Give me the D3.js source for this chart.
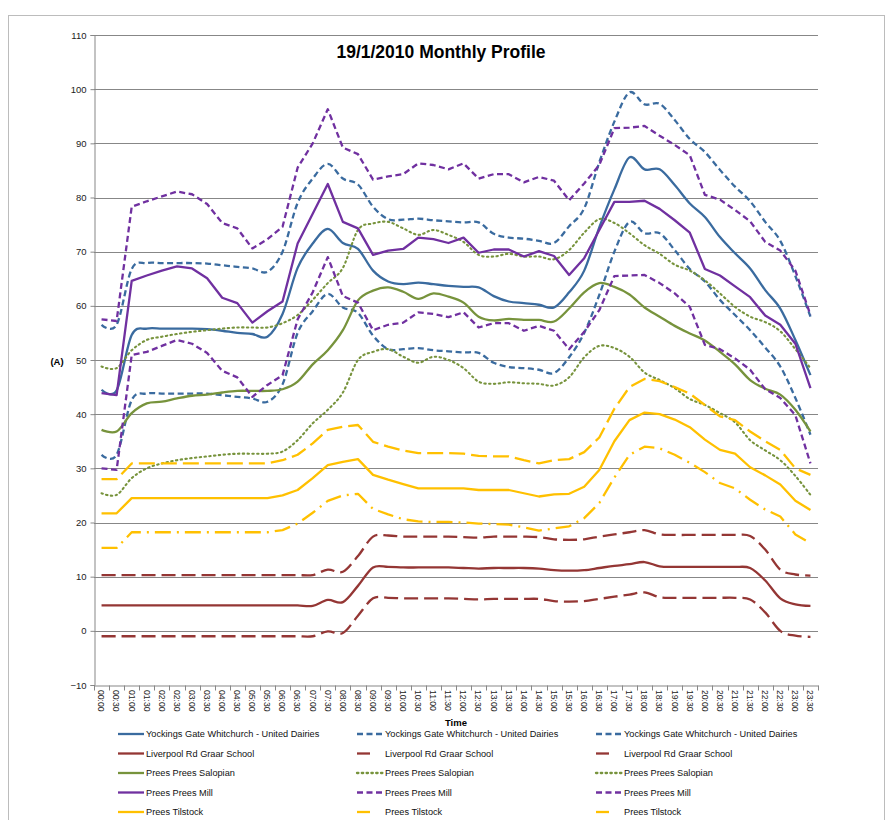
<!DOCTYPE html>
<html><head><meta charset="utf-8">
<script src="https://cdn.jsdelivr.net/npm/d3@7"></script>
<style>
html,body{margin:0;padding:0;background:#fff;}
svg{display:block;font-family:"Liberation Sans",Arial,sans-serif;}
</style></head>
<body>
<svg id="chart" width="891" height="820"></svg>
<script>
const times = ["00:00","00:30","01:00","01:30","02:00","02:30","03:00","03:30","04:00","04:30","05:00","05:30",
"06:00","06:30","07:00","07:30","08:00","08:30","09:00","09:30","10:00","10:30","11:00","11:30",
"12:00","12:30","13:00","13:30","14:00","14:30","15:00","15:30","16:00","16:30","17:00","17:30",
"18:00","18:30","19:00","19:30","20:00","20:30","21:00","21:30","22:00","22:30","23:00","23:30"];
const yTicks = [-10,0,10,20,30,40,50,60,70,80,90,100,110];

const ygMean = [44.5,44.4,54.6,55.8,55.8,55.8,55.8,55.7,55.4,55.0,54.8,54.3,58.5,67.0,71.5,74.2,71.6,70.5,66.5,64.5,64.0,64.3,64.0,63.7,63.5,63.4,61.8,60.8,60.5,60.2,59.7,62.5,66.5,74.5,81.5,87.4,85.2,85.2,82.3,78.9,76.4,72.7,69.7,66.9,62.9,59.5,53.7,47.2];
const ygUp = [56.5,56.5,66.8,67.9,67.9,67.9,67.9,67.8,67.5,67.2,66.9,66.3,70.0,79.0,83.5,86.2,83.5,82.4,78.3,76.0,75.9,76.1,75.8,75.6,75.4,75.4,73.3,72.6,72.4,72.0,71.6,74.7,78.0,86.5,94.0,99.4,97.2,97.3,94.3,90.8,88.4,85.1,82.0,79.3,75.5,72.0,65.5,58.0];
const ygLow = [32.5,32.5,42.6,43.8,43.8,43.8,43.8,43.8,43.5,43.2,42.9,42.3,45.5,55.0,59.0,62.2,59.7,58.7,54.5,52.0,52.0,52.2,51.8,51.6,51.4,51.3,49.5,48.7,48.5,48.2,47.6,50.5,55.0,62.0,70.0,75.5,73.4,73.4,70.3,66.8,64.5,61.1,58.3,55.5,52.3,48.8,43.0,36.2];

const livMean = [4.7,4.7,4.7,4.7,4.7,4.7,4.7,4.7,4.7,4.7,4.7,4.7,4.7,4.7,4.6,5.7,5.3,8.3,11.7,11.8,11.7,11.7,11.7,11.7,11.6,11.5,11.6,11.6,11.6,11.5,11.2,11.1,11.2,11.6,12.0,12.3,12.7,11.9,11.8,11.8,11.8,11.8,11.8,11.6,9.3,6.0,4.9,4.6];
const livUp = [10.3,10.3,10.3,10.3,10.3,10.3,10.3,10.3,10.3,10.3,10.3,10.3,10.3,10.3,10.3,11.3,10.9,13.8,17.4,17.6,17.4,17.4,17.4,17.4,17.3,17.2,17.4,17.4,17.4,17.3,16.9,16.8,16.9,17.4,17.8,18.2,18.6,17.8,17.7,17.7,17.7,17.7,17.7,17.5,15.0,11.3,10.4,10.2];
const livLow = [-1.0,-1.0,-1.0,-1.0,-1.0,-1.0,-1.0,-1.0,-1.0,-1.0,-1.0,-1.0,-1.0,-1.0,-1.0,-0.1,-0.4,2.8,6.0,6.1,6.0,6.0,6.0,6.0,5.9,5.8,5.9,5.9,5.9,5.9,5.5,5.4,5.5,5.9,6.3,6.7,7.1,6.2,6.1,6.1,6.1,6.1,6.1,5.8,3.4,0.0,-0.9,-1.1];

const ppsMean = [37.1,36.8,40.2,42.0,42.3,42.9,43.4,43.6,44.0,44.3,44.3,44.3,44.6,46.0,49.2,51.8,55.5,61.0,62.8,63.4,62.6,61.3,62.3,61.7,60.6,58.0,57.3,57.6,57.4,57.4,57.1,59.5,62.5,64.2,63.5,62.1,59.7,58.0,56.3,54.9,53.6,51.5,49.2,46.3,44.7,43.6,40.8,36.8];
const ppsUp = [48.8,48.5,51.8,53.7,54.3,54.8,55.2,55.5,55.8,56.0,56.0,56.0,56.8,58.3,61.1,64.2,67.0,74.0,75.2,75.5,74.3,73.1,74.0,73.1,71.8,69.4,69.1,69.6,69.1,69.1,68.6,70.3,73.5,76.0,75.3,73.4,71.2,69.6,67.6,66.5,64.7,62.3,59.8,58.0,57.0,55.3,52.0,48.5];
const ppsLow = [25.4,25.1,28.2,30.0,30.9,31.5,31.9,32.2,32.5,32.7,32.7,32.7,33.1,35.2,38.3,40.8,44.0,50.0,51.5,52.0,50.6,49.5,50.6,50.0,48.5,46.0,45.6,45.9,45.7,45.6,45.3,46.8,50.5,52.6,52.2,50.6,47.7,46.3,44.8,42.8,41.7,40.2,38.5,35.2,33.3,31.5,28.6,25.1];

const ppmMean = [43.9,43.5,64.6,65.6,66.5,67.3,66.9,65.1,61.5,60.5,56.9,59.0,60.8,71.5,77.0,82.5,75.5,74.3,69.4,70.2,70.5,72.6,72.3,71.6,72.6,69.8,70.4,70.4,69.1,70.1,69.2,65.7,68.8,74.0,79.2,79.2,79.4,77.9,75.8,73.5,66.8,65.6,63.6,61.6,58.2,56.5,53.0,44.8];
const ppmUp = [57.5,57.2,78.3,79.3,80.2,81.1,80.6,78.8,75.3,74.3,70.6,72.3,74.6,85.5,90.0,96.3,89.2,88.0,83.3,83.9,84.3,86.3,86.0,85.2,86.3,83.5,84.3,84.3,82.8,83.8,83.1,79.5,82.6,86.0,92.8,92.9,93.2,91.4,89.7,87.8,80.5,79.6,77.7,75.6,71.8,70.2,66.5,58.3];
const ppmLow = [30.0,29.7,50.9,51.5,52.6,53.7,53.0,51.3,48.0,46.8,43.2,45.4,47.2,57.5,62.5,69.0,61.8,60.6,55.5,56.5,56.9,58.8,58.5,57.9,58.8,56.0,56.8,56.8,55.4,56.3,55.4,52.0,55.2,59.2,65.5,65.6,65.7,64.2,62.3,59.8,52.8,52.0,50.3,48.2,44.6,43.0,39.8,30.9];

const tilMean = [21.7,21.7,24.5,24.5,24.5,24.5,24.5,24.5,24.5,24.5,24.5,24.5,25.0,26.0,28.2,30.6,31.2,31.7,28.8,27.9,27.1,26.3,26.3,26.3,26.3,26.0,26.0,26.0,25.4,24.8,25.2,25.3,26.6,29.7,35.0,38.9,40.3,40.0,39.0,37.6,35.3,33.4,32.7,30.2,28.7,27.0,24.0,22.3];
const tilUp = [28.0,28.0,30.9,30.9,30.9,30.9,30.9,30.9,30.9,30.9,30.9,30.9,31.5,32.5,34.6,37.1,37.7,38.0,34.9,34.0,33.3,32.8,32.8,32.8,32.7,32.3,32.2,32.2,31.5,30.9,31.5,31.7,33.0,35.7,41.0,45.0,46.5,46.1,45.0,43.8,41.7,39.6,38.9,36.8,35.0,33.4,30.0,28.8];
const tilLow = [15.3,15.3,18.2,18.2,18.2,18.2,18.2,18.2,18.2,18.2,18.2,18.2,18.6,19.8,21.8,24.0,25.0,25.3,22.5,21.5,20.6,20.2,20.1,20.1,20.0,19.8,19.7,19.6,19.1,18.5,18.9,19.3,20.8,23.6,28.3,32.5,34.0,33.7,32.5,31.0,29.3,27.3,26.3,24.2,22.4,21.1,17.8,16.2];

const names = ["Yockings Gate  Whitchurch - United Dairies","Liverpool Rd Graar  School","Prees Prees Salopian","Prees Prees Mill","Prees Tilstock"];

const C = {blue:"#3a6b9f", brown:"#943634", green:"#77933c", purple:"#7030a0", yellow:"#ffc000"};
const series = [
  {name:names[0], v:ygMean, color:C.blue, dash:null, smooth:true},
  {name:names[0], v:ygUp, color:C.blue, dash:"6,3.5", smooth:true},
  {name:names[0], v:ygLow, color:C.blue, dash:"6,3.5", smooth:true},
  {name:names[1], v:livMean, color:C.brown, dash:null, smooth:true},
  {name:names[1], v:livUp, color:C.brown, dash:"14,6", smooth:true, longDash:true},
  {name:names[1], v:livLow, color:C.brown, dash:"14,6", smooth:true, longDash:true},
  {name:names[2], v:ppsMean, color:C.green, dash:null, smooth:true},
  {name:names[2], v:ppsUp, color:C.green, dash:"1.4,3.4", smooth:true, dot:true},
  {name:names[2], v:ppsLow, color:C.green, dash:"1.4,3.4", smooth:true, dot:true},
  {name:names[3], v:ppmMean, color:C.purple, dash:null, smooth:false},
  {name:names[3], v:ppmUp, color:C.purple, dash:"6,3.5", smooth:false},
  {name:names[3], v:ppmLow, color:C.purple, dash:"6,3.5", smooth:false},
  {name:names[4], v:tilMean, color:C.yellow, dash:null, smooth:false},
  {name:names[4], v:tilUp, color:C.yellow, dash:"16,6", smooth:false, longDash:true},
  {name:names[4], v:tilLow, color:C.yellow, dash:"16,6,2,6", smooth:false, longDash:true}
];

const svg = d3.select("#chart");
const m = {left:94, right:818, top:35, bottom:685};

svg.append("rect").attr("x",8.5).attr("y",15.5).attr("width",876).attr("height",830)
  .attr("fill","none").attr("stroke","#bcbcbc").attr("stroke-width",1);

const x = d3.scaleBand().domain(times).range([m.left, m.right]).paddingInner(0).paddingOuter(0);
const y = d3.scaleLinear().domain([-10,110]).range([m.bottom, m.top]);

svg.append("g").selectAll("line").data(yTicks.filter(d=>d>-10)).join("line")
  .attr("x1",m.left).attr("x2",m.right)
  .attr("y1",d=>Math.round(y(d))+0.5).attr("y2",d=>Math.round(y(d))+0.5)
  .attr("stroke","#878787").attr("stroke-width",1);

const yAxis = d3.axisLeft(y).tickValues(yTicks).tickSize(4).tickPadding(4).tickFormat(d3.format("d"));
const gy = svg.append("g").attr("transform",`translate(${m.left+0.5},0)`).call(yAxis);
gy.select(".domain").attr("stroke","#878787");
gy.selectAll(".tick line").attr("stroke","#878787");
gy.selectAll(".tick text").attr("font-size",9.5).attr("fill","#222")
  .attr("font-family",'"Liberation Sans","Arial",sans-serif');

const xAxis = d3.axisBottom(x).tickSize(0).tickPadding(0);
const gx = svg.append("g").attr("transform",`translate(0,${m.bottom+0.5})`).call(xAxis);
gx.select(".domain").attr("stroke","#878787");
const bounds = times.map(t=>x(t)).concat([m.right]);
gx.append("g").selectAll("line").data(bounds).join("line")
  .attr("x1",d=>Math.round(d)+0.5).attr("x2",d=>Math.round(d)+0.5).attr("y1",0).attr("y2",5)
  .attr("stroke","#878787");
gx.selectAll(".tick text")
  .attr("font-size",8.6).attr("fill","#222")
  .attr("font-family",'"Liberation Sans","Arial",sans-serif')
  .attr("text-anchor","start").attr("dy",null)
  .attr("transform","translate(-3.2,4.5) rotate(90)")
  .attr("y",0).attr("x",0);

svg.append("text").attr("x",441).attr("y",58).attr("text-anchor","middle")
  .attr("font-size",17.5).attr("font-weight","bold").attr("fill","#000")
  .text("19/1/2010 Monthly Profile");

svg.append("text").attr("x",57).attr("y",365).attr("text-anchor","middle")
  .attr("font-size",9.5).attr("font-weight","bold").text("(A)");
svg.append("text").attr("x",456).attr("y",726).attr("text-anchor","middle")
  .attr("font-size",9.5).attr("font-weight","bold").text("Time");

const cx = d => x(d) + x.bandwidth()/2;
const plot = svg.append("g");
series.forEach(s=>{
  const line = d3.line()
    .x((d,i)=>cx(times[i]))
    .y(d=>y(d))
    .curve(s.smooth ? d3.curveCardinal.tension(0) : d3.curveLinear);
  plot.append("path").datum(s.v)
    .attr("d",line)
    .attr("fill","none").attr("stroke",s.color)
    .attr("stroke-width", s.dot ? 2.1 : 2.3)
    .attr("stroke-dasharray",s.dash)
    .attr("stroke-linecap", s.dot ? "round" : "butt")
    .attr("stroke-linejoin","round");
});

const colX = [118, 357, 596];
const rowY = [734, 753.5, 773, 792.5, 812];
const leg = svg.append("g");
series.forEach((s,i)=>{
  const r = Math.floor(i/3), c = i%3;
  const x0 = colX[c], yy = rowY[r];
  const len = s.longDash ? 13 : 26;
  leg.append("line").attr("x1",x0).attr("x2",x0+len).attr("y1",yy).attr("y2",yy)
    .attr("stroke",s.color).attr("stroke-width",2.3)
    .attr("stroke-dasharray", s.longDash ? null : s.dash)
    .attr("stroke-linecap", s.dot ? "round" : "butt");
  leg.append("text").attr("x", x0+28).attr("y",yy+3.3)
    .attr("font-size",9.2).attr("fill","#111").text(s.name);
});
</script>
</body></html>
